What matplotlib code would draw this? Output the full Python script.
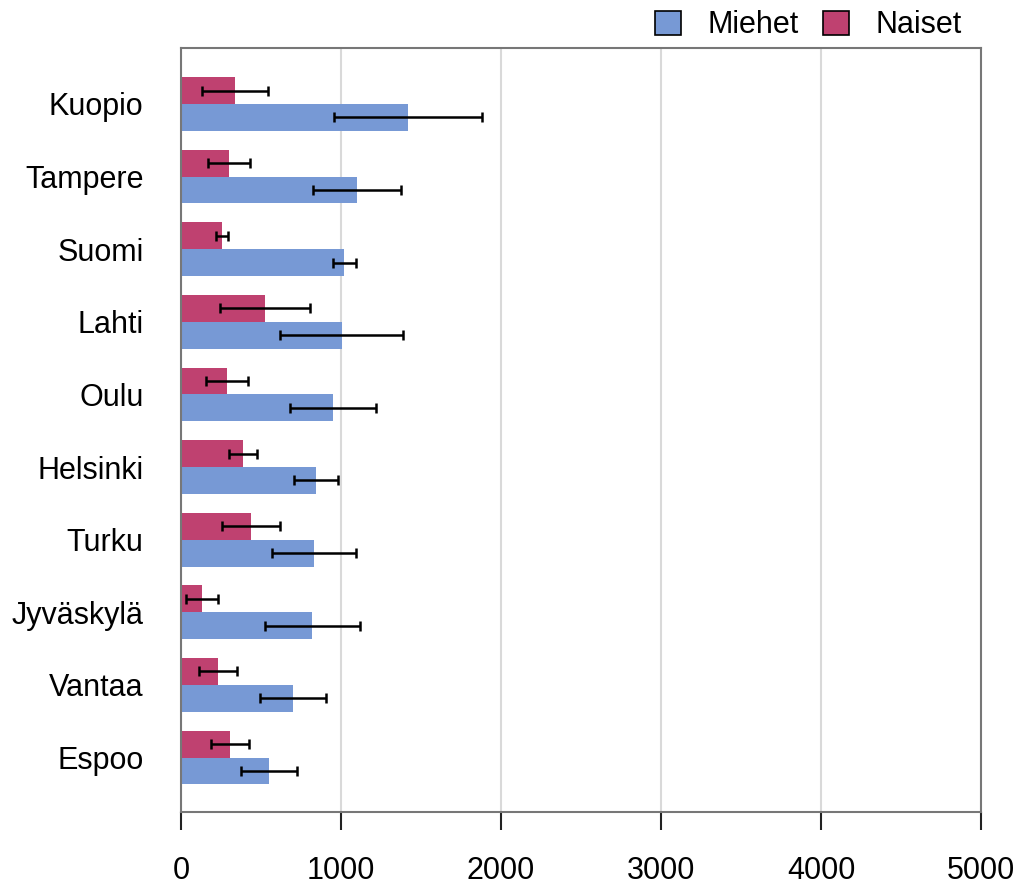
import numpy as np
import matplotlib
matplotlib.use("Agg")
import matplotlib.pyplot as plt

plt.rcParams['font.family'] = ['Liberation Sans', 'DejaVu Sans']

# bottom to top
cities = ["Espoo", "Vantaa", "Jyväskylä", "Turku", "Helsinki",
          "Oulu", "Lahti", "Suomi", "Tampere", "Kuopio"]
miehet = [550, 700, 819, 831, 844, 950, 1004, 1019, 1100, 1417]
miehet_err = [173, 208, 297, 260, 140, 268, 385, 72, 275, 463]
naiset = [306, 231, 131, 437, 387, 287, 525, 256, 300, 337]
naiset_err = [118, 120, 98, 180, 88, 130, 283, 37, 133, 205]

blue = "#7799d5"
pink = "#bf4170"
axis_gray = "#777777"

fig = plt.figure(figsize=(10.24, 8.86), dpi=100)
ax = fig.add_axes([0.1768, 0.0835, 0.78125, 0.8623])

y = np.arange(len(cities))
h = 0.37
err_kw = dict(ecolor="black", elinewidth=1.8, capsize=3.5, capthick=1.8)
ax.barh(y - h / 2, miehet, height=h, color=blue, xerr=miehet_err,
        error_kw=err_kw, label="Miehet", zorder=2)
ax.barh(y + h / 2, naiset, height=h, color=pink, xerr=naiset_err,
        error_kw=err_kw, label="Naiset", zorder=2)

ax.set_xlim(0, 5000)
ax.set_ylim(-0.75, 9.77)
ax.set_xticks(range(0, 5001, 1000))
ax.set_yticks(y)
ax.set_yticklabels(cities)
ax.tick_params(axis="x", labelsize=22, length=13, width=1.5, color="#222222", pad=19)
ax.tick_params(axis="y", labelsize=22, length=0, pad=27)
ax.grid(axis="x", color="#d9d9d9", linewidth=1.5, zorder=0)
ax.set_axisbelow(True)
for s in ax.spines.values():
    s.set_color(axis_gray)
    s.set_linewidth(1.5)

leg = ax.legend(loc="lower right", bbox_to_anchor=(0.986, 1.0), ncol=2, frameon=False,
                fontsize=22, handlelength=0.85, handleheight=0.85, columnspacing=0.8,
                handletextpad=0.87, borderaxespad=0.05, borderpad=0.2)
for p in leg.get_patches():
    p.set_edgecolor("black")
    p.set_linewidth(1.2)

fig.savefig("out.png", dpi=100)
